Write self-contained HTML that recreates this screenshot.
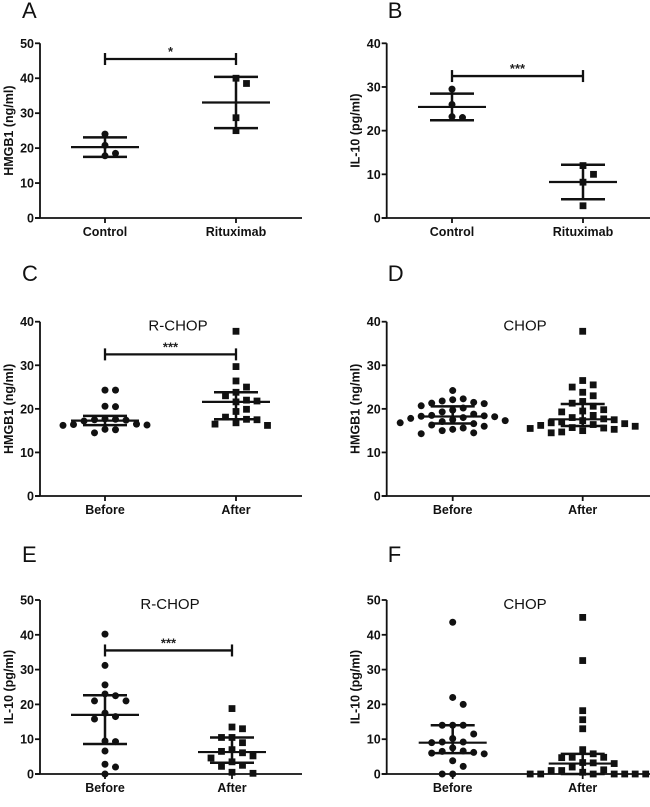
<!DOCTYPE html>
<html><head><meta charset="utf-8"><style>
body{margin:0;background:#fff;}
svg{display:block;font-family:"Liberation Sans",Arial,sans-serif;}
</style></head><body>
<svg id="fig" width="650" height="807" viewBox="0 0 650 807"></svg>
<script>
// ---- data ----
const catsAB = ["Control","Rituximab"];
const catsCF = ["Before","After"];
const aControl = [24.0,20.8,17.8,18.5];
const aRituximab = [40.0,38.5,28.7,25.0];
const bControl = [29.5,26.0,23.0,23.2];
const bRituximab = [12.0,10.0,8.2,2.8];
const cBefore = [24.3,24.3,20.6,20.5,17.7,17.6,17.5,17.4,17.2,16.5,16.4,16.3,16.2,15.3,15.2,14.5];
const cAfter = [37.8,29.7,26.4,25.0,23.8,23.0,22.0,21.8,21.6,19.9,19.4,18.1,17.6,17.5,16.8,16.5,16.2];
const dBefore = [24.2,22.3,22.1,21.8,21.5,21.3,21.2,20.7,20.2,19.7,19.3,18.8,18.5,18.4,18.3,18.2,18.0,17.8,17.5,17.3,17.1,16.8,16.6,16.3,16.0,15.6,15.3,15.0,14.5,14.3];
const dAfter = [37.8,26.5,25.5,25.0,23.8,23.0,21.7,21.3,20.6,19.8,19.5,19.3,18.5,18.0,17.7,17.5,17.3,17.0,16.8,16.6,16.4,16.2,16.0,15.7,15.6,15.5,15.3,15.0,14.7,14.5];
const eBefore = [40.2,31.2,25.6,23.0,22.5,21.0,21.0,17.5,16.5,15.8,9.5,9.3,6.6,2.8,2.0,0.0];
const eAfter = [18.8,13.5,13.0,10.5,10.5,9.0,7.0,6.5,6.1,5.2,4.6,3.5,2.5,2.2,0.5,0.2];
const fBefore = [43.6,22.0,20.0,14.0,14.0,14.0,11.5,10.2,9.2,9.2,9.0,7.5,6.6,6.5,6.2,6.0,5.8,3.8,2.2,0.0,0.0];
const fAfter = [45.0,32.6,18.2,15.6,13.0,7.0,5.8,4.8,4.8,4.7,3.3,3.2,3.0,2.0,1.2,1.0,1.0,0.5,0,0,0,0,0,0,0];
const ticks50 = [0,10,20,30,40,50];
const ticks40 = [0,10,20,30,40];
const sigA = {value:45.5, label:"*"};
const sigB = {value:32.5, label:"***"};
const sigC = {value:32.5, label:"***"};
const sigE = {value:35.5, label:"***"};

const NS="http://www.w3.org/2000/svg";
const svg=document.getElementById('fig');
function mk(tag,attrs,parent,text){const e=document.createElementNS(NS,tag);for(const k in attrs)e.setAttribute(k,attrs[k]);if(text!==undefined)e.textContent=text;(parent||svg).appendChild(e);return e;}
function mean(a){return a.reduce((s,v)=>s+v,0)/a.length;}
function sd(a){const m=mean(a);return Math.sqrt(a.reduce((s,v)=>s+(v-m)*(v-m),0)/(a.length-1));}
function q(a,p){const s=[...a].sort((x,y)=>x-y);const i=(s.length-1)*p;const l=Math.floor(i),h=Math.ceil(i);return s[l]+(s[h]-s[l])*(i-l);}

function panel(o){
  const g=mk('g',{});
  const ymax=o.ticks[o.ticks.length-1];
  const Y=v=>o.y0-(v/ymax)*(o.y0-o.ytop);
  const L=mk('text',{x:o.ax-18+(o.letterDx||0),y:o.letterY,'font-size':22,fill:'#111'},g,o.letter);
  
  
  const ya=mk('line',{x1:o.ax,y1:o.ytop,x2:o.ax,y2:o.y0,stroke:'#111','stroke-width':1.8},g);
  
  const xa=mk('line',{x1:o.ax-5,y1:o.y0,x2:o.axEnd,y2:o.y0,stroke:'#111','stroke-width':1.8},g);
  
  o.ticks.forEach(t=>{
    mk('line',{x1:o.ax-5,y1:Y(t),x2:o.ax,y2:Y(t),stroke:'#111','stroke-width':1.8},g);
    const tl=mk('text',{x:o.ax-6,y:Y(t)+4.5,'font-size':12.5,'font-weight':'bold','text-anchor':'end',fill:'#111'},g,String(t));
    
  });
  const yt=mk('text',{x:0,y:0,'font-size':12.5,'font-weight':'bold','text-anchor':'middle',fill:'#111',transform:`translate(${o.ax-27},${(o.y0+o.ytop)/2}) rotate(-90)`},g,o.ytitle);
  
  if(o.title){const tt=mk('text',{x:o.titleX,y:o.ytop+9,'font-size':15,'text-anchor':'middle',fill:'#111'},g,o.title);
    }
  o.series.forEach((arr,i)=>{
    const cx=o.xs[i];
    mk('line',{x1:cx,y1:o.y0,x2:cx,y2:o.y0+5,stroke:'#111','stroke-width':1.8},g);
    const cl=mk('text',{x:cx,y:o.y0+18,'font-size':12.5,'font-weight':'bold','text-anchor':'middle',fill:'#111'},g,o.cats[i]);
    
    const placed=[];const step=10.5;
    [...arr].map((v,k)=>({v,k})).sort((a,b)=>b.v-a.v).forEach(p=>{
      const py=Y(p.v);let off=0;
      for(let n=0;n<40;n++){
        const cand=n===0?0:(n%2?1:-1)*Math.ceil(n/2)*step;
        if(!placed.some(q2=>Math.abs(q2.x-cand)<7&&Math.abs(q2.y-py)<9)){off=cand;break;}
      }
      placed.push({x:off,y:py});
      let m;
      if(i===0){m=mk('circle',{cx:cx+off,cy:py,r:3.5,fill:'#111'},g);}
      else{m=mk('rect',{x:cx+off-3.4,y:py-3.4,width:6.8,height:6.8,fill:'#111'},g);}
      
      
    });
    let c,lo,hi;
    if(o.stat==='sd'){c=mean(arr);const s=sd(arr);lo=c-s;hi=c+s;}
    else{c=q(arr,0.5);lo=q(arr,0.25);hi=q(arr,0.75);}
    const eb=mk('g',{},g);
    
    mk('line',{x1:cx-34,y1:Y(c),x2:cx+34,y2:Y(c),stroke:'#111','stroke-width':2.2},eb);
    mk('line',{x1:cx-22,y1:Y(hi),x2:cx+22,y2:Y(hi),stroke:'#111','stroke-width':2.5},eb);
    mk('line',{x1:cx-22,y1:Y(lo),x2:cx+22,y2:Y(lo),stroke:'#111','stroke-width':2.5},eb);
    mk('line',{x1:cx,y1:Y(hi),x2:cx,y2:Y(lo),stroke:'#111','stroke-width':2.5},eb);
  });
  if(o.sig){
    const sy=Y(o.sig.value);
    const sg=mk('g',{},g);
    
    mk('line',{x1:o.xs[0],y1:sy,x2:o.xs[1],y2:sy,stroke:'#111','stroke-width':2.3},sg);
    mk('line',{x1:o.xs[0],y1:sy-6,x2:o.xs[0],y2:sy+6,stroke:'#111','stroke-width':2.3},sg);
    mk('line',{x1:o.xs[1],y1:sy-6,x2:o.xs[1],y2:sy+6,stroke:'#111','stroke-width':2.3},sg);
    mk('text',{x:(o.xs[0]+o.xs[1])/2,y:sy-3,'font-size':13,'font-weight':'bold','text-anchor':'middle',fill:'#222'},sg,o.sig.label);
  }
}
panel({name:'panel-a',letter:'A',letterY:18,letterDx:0,ax:40,axEnd:302,y0:218,ytop:43.3,ticks:ticks50,ytitle:'HMGB1 (ng/ml)',cats:catsAB,xs:[105,236],series:[aControl,aRituximab],stat:'sd',sig:sigA});
panel({name:'panel-b',letter:'B',letterY:18,letterDx:19,ax:386.7,axEnd:650,y0:218,ytop:43.3,ticks:ticks40,ytitle:'IL-10 (pg/ml)',cats:catsAB,xs:[452,583],series:[bControl,bRituximab],stat:'sd',sig:sigB});
panel({name:'panel-c',letter:'C',letterY:281,letterDx:0,ax:40,axEnd:302,y0:496,ytop:321.7,ticks:ticks40,ytitle:'HMGB1 (ng/ml)',title:'R-CHOP',titleX:178,cats:catsCF,xs:[105,236],series:[cBefore,cAfter],stat:'iqr',sig:sigC});
panel({name:'panel-d',letter:'D',letterY:281,letterDx:19,ax:386.7,axEnd:650,y0:496,ytop:321.7,ticks:ticks40,ytitle:'HMGB1 (ng/ml)',title:'CHOP',titleX:525,cats:catsCF,xs:[452.7,582.7],series:[dBefore,dAfter],stat:'iqr'});
panel({name:'panel-e',letter:'E',letterY:562,letterDx:0,ax:40,axEnd:302,y0:774,ytop:600,ticks:ticks50,ytitle:'IL-10 (pg/ml)',title:'R-CHOP',titleX:170,cats:catsCF,xs:[105,232],series:[eBefore,eAfter],stat:'iqr',sig:sigE});
panel({name:'panel-f',letter:'F',letterY:562,letterDx:19,ax:386.7,axEnd:650,y0:774,ytop:600,ticks:ticks50,ytitle:'IL-10 (pg/ml)',title:'CHOP',titleX:525,cats:catsCF,xs:[452.7,582.7],series:[fBefore,fAfter],stat:'iqr'});
</script>
</body></html>
